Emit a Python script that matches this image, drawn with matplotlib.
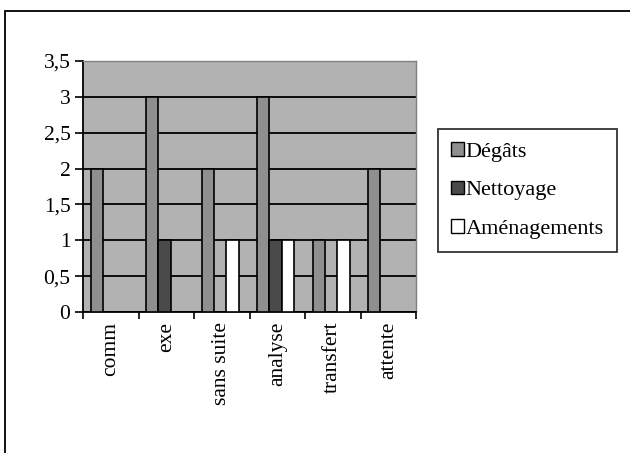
import numpy as np
import matplotlib
matplotlib.use("Agg")
import matplotlib.pyplot as plt
from matplotlib.patches import Rectangle

categories = ["comm", "exe", "sans suite", "analyse", "transfert", "attente"]
series_names = ["Dégâts", "Nettoyage", "Aménagements"]
degats = [2, 3, 2, 3, 1, 2]
nettoyage = [0, 1, 0, 1, 0, 0]
amenagements = [0, 0, 1, 1, 1, 0]
y_ticks = [0, 0.5, 1, 1.5, 2, 2.5, 3, 3.5]
y_labels = ["0", "0,5", "1", "1,5", "2", "2,5", "3", "3,5"]

colors = ["#8f8f8f", "#4a4a4a", "#ffffff"]


def main():
    plt.rcParams["font.family"] = ["Liberation Serif", "DejaVu Serif"]
    fig = plt.figure(figsize=(6.3, 4.53), dpi=100)

    # outer chart frame (open to the right/bottom like the cropped original)
    fig.patches.append(Rectangle((5 / 630, -0.1), 1.2, 1 - 11 / 453 + 0.1,
                                 transform=fig.transFigure, fill=False,
                                 edgecolor="black", linewidth=1.3))

    ax = fig.add_axes([83 / 630, 1 - 312 / 453, (416 - 83) / 630, (312 - 61) / 453])
    ax.set_facecolor("#b2b2b2")

    x = np.arange(len(categories))
    w = 1 / 4.5
    for i, (vals, name) in enumerate(zip([degats, nettoyage, amenagements], series_names)):
        ax.bar(x + (i - 1) * w - 0.03, vals, width=w, color=colors[i], edgecolor="black",
               linewidth=1.2, label=name, zorder=3)

    ax.set_ylim(0, 3.5)
    ax.set_xlim(-0.5, len(categories) - 0.5)
    ax.set_yticks(y_ticks)
    ax.set_yticklabels(y_labels, fontsize=15.5)
    ax.yaxis.grid(True, color="black", linewidth=1.3, zorder=1)
    ax.set_axisbelow(True)

    ax.set_xticks(x)
    ax.set_xticklabels(categories, rotation=90, fontsize=15.5, va="top")
    ax.tick_params(axis="x", length=0, pad=7)
    ax.set_xticks(np.arange(-0.5, len(categories)), minor=True)
    ax.tick_params(axis="x", which="minor", length=5, width=1.2, direction="out")
    ax.tick_params(axis="y", length=6, width=1.2, direction="out", pad=3)

    for s in ["top", "right"]:
        ax.spines[s].set_color("#808080")
        ax.spines[s].set_linewidth(1)
    for s in ["left", "bottom"]:
        ax.spines[s].set_linewidth(1.3)

    leg = fig.legend(loc="upper left", bbox_to_anchor=(438 / 630, 1 - 129 / 453),
                     fontsize=16, frameon=True, fancybox=False, edgecolor="black",
                     handlelength=0.55, handleheight=0.55, handletextpad=0.1,
                     labelspacing=0.85, borderpad=0.6, borderaxespad=0)
    leg.get_frame().set_linewidth(1.3)
    for h in leg.legend_handles:
        h.set_linewidth(1)

    fig.savefig("out.png", dpi=100)
    plt.close(fig)


if __name__ == "__main__":
    main()
